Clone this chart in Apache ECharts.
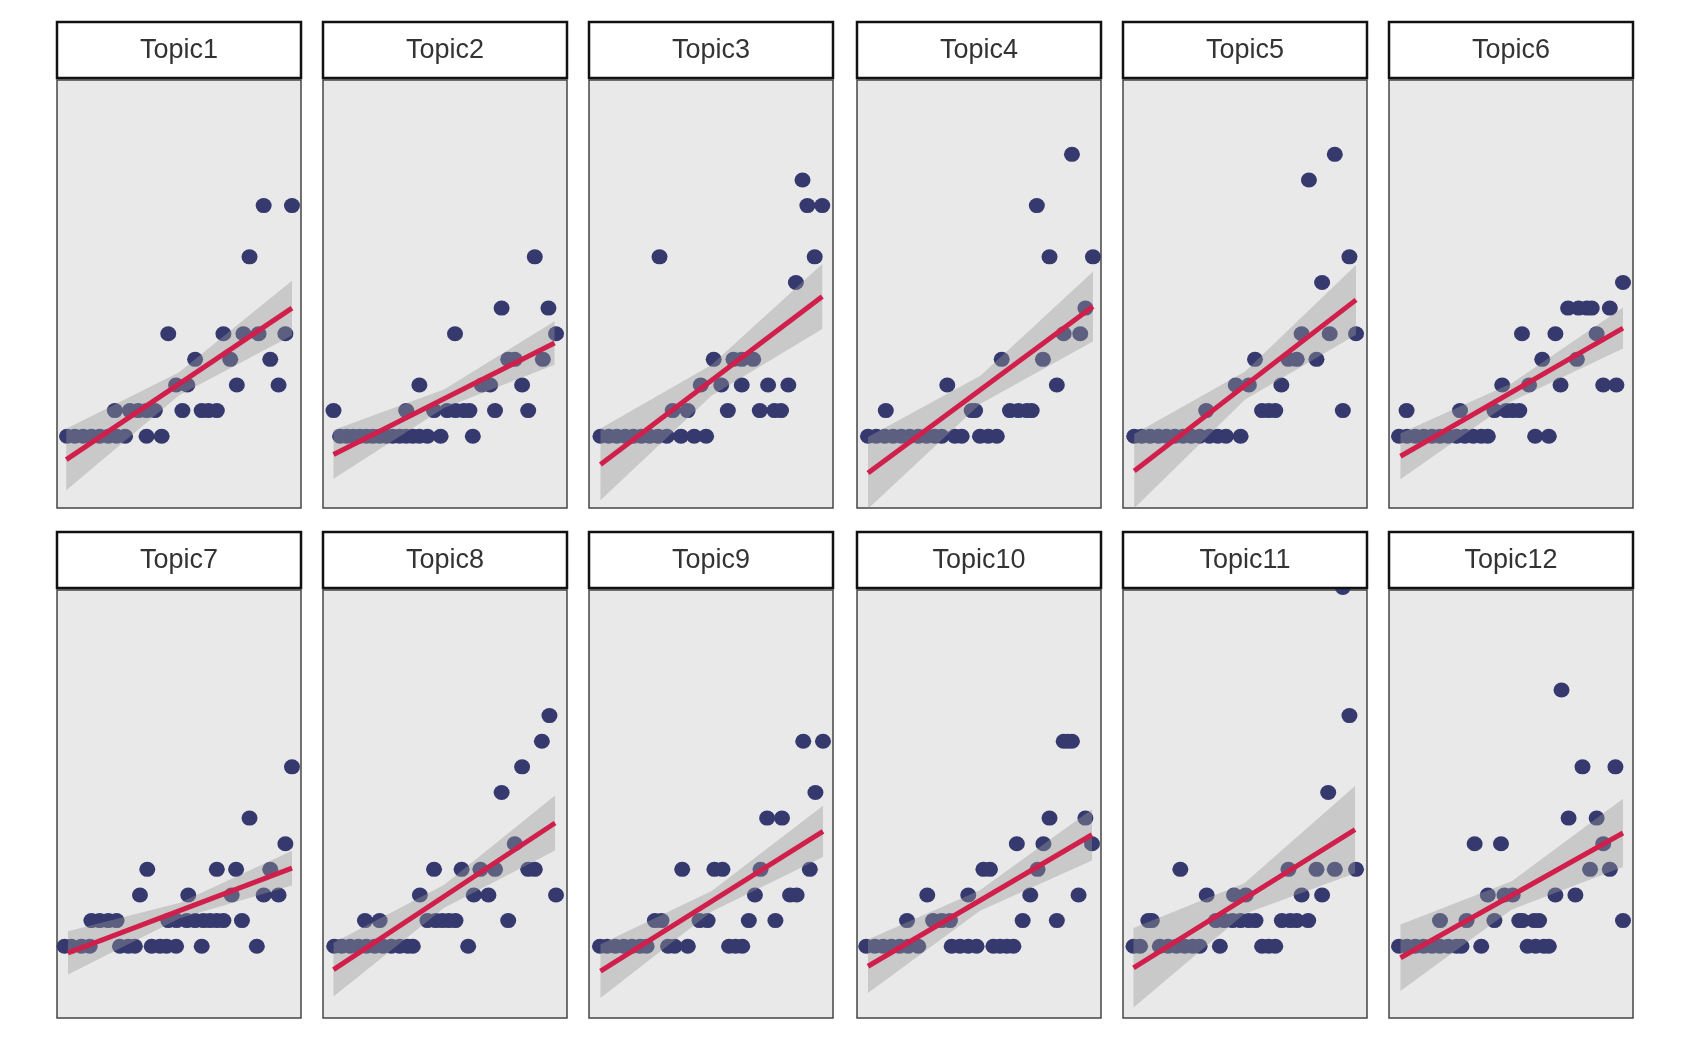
<!DOCTYPE html>
<html lang="en" style="height: 100%">
<head>
<meta charset="utf-8">
<title>Topic scatter facets</title>
</head>
<body style="height: 100%; margin: 0; background: #ffffff">
<div id="container" style="width: 1692px; height: 1053px"></div>

<script type="text/javascript" src="https://cdn.jsdelivr.net/npm/echarts/dist/echarts.min.js"></script>

<script type="text/javascript">

// facet titles
const topics = ['Topic1', 'Topic2', 'Topic3', 'Topic4', 'Topic5', 'Topic6',
                'Topic7', 'Topic8', 'Topic9', 'Topic10', 'Topic11', 'Topic12'];

// points per facet, [x, y]
const topic1Points = [[4.1,1],[7.3,1],[10.7,1],[14.1,1],[17.5,1],[21.0,1],[24.4,1],[27.9,1],[36.7,1],[42.9,1],
  [23.7,2],[29.9,2],[33.3,2],[36.7,2],[40.1,2],[51.4,2],[59.3,2],[62.1,2],[65.5,2],
  [48.8,3],[53.4,3],[73.7,3],[90.8,3],[56.6,4],[71.0,4],[87.4,4],
  [45.6,5],[68.2,5],[76.4,5],[82.6,5],[93.6,5],[78.9,8],[84.7,10],[96.3,10]];
const topic2Points = [[7.0,1],[9.7,1],[12.4,1],[15.1,1],[17.8,1],[20.5,1],[23.2,1],[25.9,1],[28.6,1],[31.4,1],[34.1,1],[36.8,1],[39.5,1],[42.8,1],[48.2,1],[61.4,1],
  [4.3,2],[34.1,2],[45.5,2],[50.9,2],[54.3,2],[57.7,2],[60.0,2],[70.5,2],[84.1,2],
  [39.5,3],[65.1,3],[68.5,3],[81.6,3],[75.9,4],[78.6,4],[90.1,4],
  [54.1,5],[95.5,5],[73.2,6],[92.4,6],[86.8,8]];
const topic3Points = [[4.7,1],[8.1,1],[11.4,1],[14.8,1],[18.2,1],[21.5,1],[24.9,1],[28.3,1],[31.9,1],[37.7,1],[43.1,1],[48.0,1],
  [34.3,2],[40.4,2],[56.9,2],[70.0,2],[76.0,2],[78.7,2],
  [45.8,3],[54.2,3],[62.6,3],[73.4,3],[81.7,3],[51.1,4],[59.2,4],[62.6,4],[67.3,4],
  [84.8,7],[28.9,8],[92.5,8],[89.5,10],[95.6,10],[87.5,11]];
const topic4Points = [[4.5,1],[7.9,1],[11.4,1],[14.8,1],[18.2,1],[21.6,1],[25.1,1],[28.5,1],[31.9,1],[34.7,1],[40.1,1],[42.9,1],[50.4,1],[53.8,1],[57.3,1],
  [11.8,2],[47.0,2],[48.4,2],[62.7,2],[66.2,2],[69.6,2],[71.6,2],
  [37.0,3],[81.9,3],[59.3,4],[76.2,4],[84.7,5],[91.5,5],[93.6,6],
  [78.9,8],[96.7,8],[73.7,10],[88.1,12]];
const topic5Points = [[4.6,1],[7.7,1],[11.1,1],[14.5,1],[17.8,1],[21.2,1],[24.6,1],[28.0,1],[31.4,1],[35.4,1],[38.8,1],[42.2,1],[48.2,1],
  [34.1,2],[57.0,2],[59.7,2],[62.4,2],[90.1,2],[46.2,3],[51.6,3],[64.9,3],
  [54.1,4],[67.8,4],[71.2,4],[79.3,4],[73.2,5],[84.7,5],[95.5,5],
  [81.6,7],[92.8,8],[76.2,11],[86.8,12]];
const topic6Points = [[4.1,1],[7.4,1],[10.8,1],[14.2,1],[17.6,1],[20.9,1],[24.3,1],[27.7,1],[31.1,1],[34.5,1],[37.8,1],[40.5,1],[59.9,1],[65.5,1],
  [7.2,2],[29.1,2],[43.2,2],[48.0,2],[50.7,2],[53.4,2],
  [46.4,3],[57.4,3],[70.3,3],[87.8,3],[93.2,3],[62.8,4],[77.0,4],
  [54.5,5],[68.2,5],[85.1,5],[73.4,6],[77.7,6],[81.1,6],[83.1,6],[90.5,6],[95.9,7]];
const topic7Points = [[3.1,1],[5.9,1],[10.0,1],[13.4,1],[25.8,1],[29.2,1],[31.9,1],[38.8,1],[42.2,1],[44.9,1],[48.8,1],[59.3,1],[81.9,1],
  [14.1,2],[17.5,2],[21.0,2],[24.4,2],[45.6,2],[49.0,2],[53.2,2],[56.6,2],[60.0,2],[62.7,2],[65.5,2],[68.2,2],[75.8,2],
  [34.0,3],[53.8,3],[71.6,3],[84.7,3],[90.8,3],[37.0,4],[65.5,4],[73.4,4],[87.4,4],
  [93.6,5],[78.9,6],[96.3,8]];
const topic8Points = [[4.6,1],[7.7,1],[11.1,1],[14.5,1],[17.8,1],[21.2,1],[24.6,1],[28.0,1],[31.4,1],[34.7,1],[36.8,1],[59.5,1],
  [17.2,2],[23.2,2],[42.8,2],[46.2,2],[48.9,2],[51.6,2],[54.3,2],[75.9,2],
  [39.7,3],[61.8,3],[67.8,3],[95.5,3],[45.5,4],[56.8,4],[64.5,4],[70.5,4],[84.1,4],[86.8,4],
  [78.6,5],[73.2,7],[81.6,8],[89.7,9],[92.8,10]];
const topic9Points = [[4.5,1],[7.4,1],[10.8,1],[14.2,1],[17.6,1],[20.9,1],[23.6,1],[32.4,1],[35.1,1],[40.5,1],[57.4,1],[60.1,1],[62.8,1],
  [27.0,2],[29.7,2],[45.3,2],[48.6,2],[65.5,2],[76.4,2],[68.0,3],[82.4,3],[85.1,3],
  [38.2,4],[51.4,4],[54.7,4],[70.3,4],[90.5,4],[73.0,6],[79.1,6],[92.8,7],[87.8,9],[95.9,9]];
const topic10Points = [[3.8,1],[7.3,1],[10.7,1],[14.1,1],[17.5,1],[21.0,1],[25.1,1],[38.8,1],[42.2,1],[45.6,1],[49.0,1],[55.9,1],[58.6,1],[61.4,1],[64.1,1],
  [20.5,2],[31.2,2],[34.7,2],[38.1,2],[67.9,2],[81.9,2],[28.8,3],[45.6,3],[71.0,3],[90.8,3],
  [51.8,4],[54.5,4],[74.0,4],[65.5,5],[76.4,5],[96.3,5],[78.9,6],[93.6,6],
  [84.7,9],[86.4,9],[88.1,9]];
const topic11Points = [[4.3,1],[7.0,1],[15.1,1],[18.5,1],[21.9,1],[25.3,1],[28.6,1],[31.4,1],[39.7,1],[57.0,1],[59.7,1],[62.4,1],
  [10.4,2],[11.8,2],[38.1,2],[41.5,2],[44.9,2],[48.2,2],[51.6,2],[54.3,2],[65.1,2],[68.5,2],[71.2,2],[75.9,2],
  [34.3,3],[45.5,3],[50.3,3],[73.2,3],[81.6,3],[23.5,4],[67.8,4],[79.3,4],[86.8,4],[95.5,4],
  [84.1,7],[92.8,10],[90.1,15]];
const topic12Points = [[4.1,1],[7.4,1],[10.8,1],[14.2,1],[17.6,1],[20.9,1],[24.3,1],[27.7,1],[29.7,1],[37.8,1],[56.8,1],[60.1,1],[63.5,1],[65.5,1],
  [20.9,2],[31.8,2],[43.2,2],[53.4,2],[54.7,2],[59.5,2],[61.5,2],[95.9,2],
  [40.5,3],[47.3,3],[50.7,3],[68.2,3],[76.4,3],[82.4,4],[90.5,4],
  [35.1,5],[45.9,5],[87.8,5],[73.6,6],[85.1,6],[79.3,8],[92.8,8],[70.7,11]];

const allPoints = [topic1Points, topic2Points, topic3Points, topic4Points, topic5Points, topic6Points,
                   topic7Points, topic8Points, topic9Points, topic10Points, topic11Points, topic12Points];

// fitted line ends and band half-widths (left, middle, right)
const fitX0 = [3.8, 4.3, 4.7, 4.5, 4.6, 4.7, 4.5, 4.3, 4.7, 4.5, 4.3, 4.7];
const fitY0 = [0.09, 0.29, -0.10, -0.43, -0.36, 0.22, 0.74, 0.09, 0.03, 0.22, 0.16, 0.55];
const fitX1 = [96.3, 94.9, 95.6, 96.7, 95.5, 95.9, 96.3, 95.1, 95.9, 96.3, 95.1, 95.9];
const fitY1 = [6.0, 4.64, 6.45, 6.06, 6.32, 5.22, 4.05, 5.81, 5.48, 5.35, 5.55, 5.42];
const bandLeft  = [1.2, 0.95, 1.4, 1.4, 1.45, 0.9, 0.84, 1.05, 1.05, 1.04, 1.55, 1.3];
const bandMid   = [0.45, 0.36, 0.6, 0.55, 0.55, 0.35, 0.3, 0.45, 0.4, 0.4, 0.6, 0.55];
const bandRight = [1.07, 0.85, 1.27, 1.36, 1.36, 0.8, 0.68, 1.07, 1.0, 1.0, 1.7, 1.33];

// layout
const colLeft = [57, 323, 589, 857, 1123, 1389];
const rowTop = [80, 590];
const stripTop = [22, 532];
const panelW = 244, panelH = 428, stripH = 56;

var dom = document.getElementById('container');
var myChart = echarts.init(dom);

const grids = [], xAxes = [], yAxes = [], series = [], graphics = [];

topics.forEach(function (name, i) {
    const col = i % 6, row = Math.floor(i / 6);
    grids.push({
        left: colLeft[col], top: rowTop[row], width: panelW, height: panelH,
        show: true, backgroundColor: '#e9e9e9', borderColor: '#454545', borderWidth: 1.5
    });
    xAxes.push({ type: 'value', gridIndex: i, min: 0, max: 100, show: false });
    yAxes.push({ type: 'value', gridIndex: i, min: -1.8, max: 14.9, show: false });

    series.push({
        type: 'scatter', xAxisIndex: i, yAxisIndex: i,
        data: allPoints[i], symbol: 'circle', symbolSize: [16, 15],
        itemStyle: { color: '#35396e', opacity: 1 },
        clip: false, silent: true, z: 2
    });

    // confidence band: left, middle and right cross sections
    const xm = (fitX0[i] + fitX1[i]) / 2, ym = (fitY0[i] + fitY1[i]) / 2;
    const upper = [[fitX0[i], fitY0[i] + bandLeft[i]], [xm, ym + bandMid[i]], [fitX1[i], fitY1[i] + bandRight[i]]];
    const lower = [[fitX1[i], fitY1[i] - bandRight[i]], [xm, ym - bandMid[i]], [fitX0[i], fitY0[i] - bandLeft[i]]];
    const ribbon = upper.concat(lower);
    series.push({
        type: 'custom', xAxisIndex: i, yAxisIndex: i,
        data: [[xm, ym]], silent: true, z: 3,
        renderItem: function (params, api) {
            return {
                type: 'polygon',
                shape: { points: ribbon.map(function (p) { return api.coord(p); }) },
                style: { fill: 'rgba(153,153,153,0.4)' }
            };
        }
    });

    series.push({
        type: 'line', xAxisIndex: i, yAxisIndex: i,
        data: [[fitX0[i], fitY0[i]], [fitX1[i], fitY1[i]]],
        symbol: 'none', silent: true, z: 4,
        lineStyle: { color: '#d11f4c', width: 5 }
    });

    graphics.push({
        type: 'rect', z: 100,
        shape: { x: colLeft[col], y: stripTop[row], width: panelW, height: stripH },
        style: { fill: '#ffffff', stroke: '#111111', lineWidth: 2.5 }
    });
    graphics.push({
        type: 'text', z: 101,
        x: colLeft[col] + panelW / 2, y: stripTop[row] + stripH / 2 + 1,
        style: {
            text: name, fill: '#333333', align: 'center', verticalAlign: 'middle',
            font: '27px "Liberation Sans", Arial, sans-serif'
        }
    });
});

option = {
    backgroundColor: '#ffffff',
    animation: false,
    grid: grids,
    xAxis: xAxes,
    yAxis: yAxes,
    series: series,
    graphic: graphics
};

if (option && typeof option === 'object') {
    myChart.setOption(option);
}

window.addEventListener('resize', myChart.resize);
</script>
</body>
</html>
